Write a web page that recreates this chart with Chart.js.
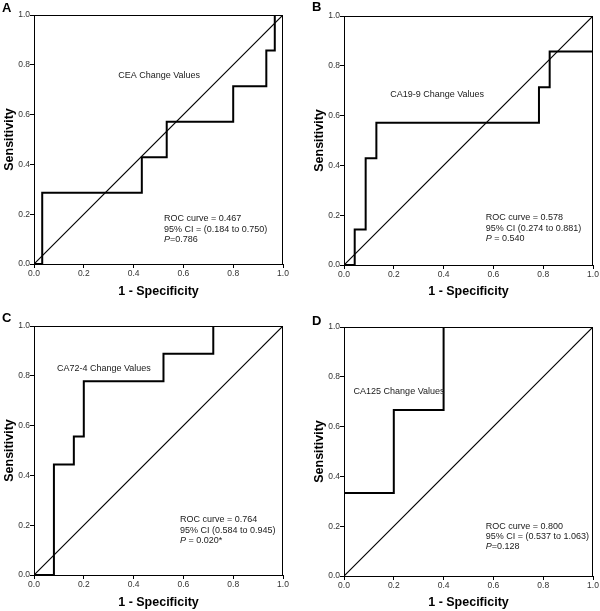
<!DOCTYPE html>
<html>
<head>
<meta charset="utf-8">
<script src="https://cdn.jsdelivr.net/npm/chart.js@4.4.1/dist/chart.umd.min.js"></script>
<style>
html,body{margin:0;padding:0;background:#fff;}
#wrap{position:relative;width:600px;height:611px;overflow:hidden;}
.cell{position:absolute;}
canvas{display:block;}
</style>
</head>
<body>
<div id="wrap">
  <div class="cell" style="left:0;top:0"><canvas id="cA" width="300" height="300"></canvas></div>
  <div class="cell" style="left:300px;top:0"><canvas id="cB" width="300" height="300"></canvas></div>
  <div class="cell" style="left:0;top:300px"><canvas id="cC" width="300" height="311"></canvas></div>
  <div class="cell" style="left:300px;top:300px"><canvas id="cD" width="300" height="311"></canvas></div>
</div>
<script>
// ---- data ----
const panelLetters = ['A', 'B', 'C', 'D'];
const markerNames = ['CEA Change Values', 'CA19-9 Change Values', 'CA72-4 Change Values', 'CA125 Change Values'];
const rocLines = ['ROC curve = 0.467', 'ROC curve = 0.578', 'ROC curve = 0.764', 'ROC curve = 0.800'];
const ciLines = ['95% CI = (0.184 to 0.750)', '95% CI (0.274 to 0.881)', '95% CI (0.584 to 0.945)', '95% CI = (0.537 to 1.063)'];
const pLines = ['=0.786', ' = 0.540', ' = 0.020*', '=0.128'];

const fprA = [0, 0.033, 0.433, 0.533, 0.800, 0.933, 0.967, 1.0];
const tprA = [0, 0.286, 0.429, 0.571, 0.714, 0.857, 1.0, 1.0];
const fprB = [0, 0.043, 0.087, 0.130, 0.783, 0.826, 1.0];
const tprB = [0, 0.143, 0.429, 0.571, 0.714, 0.857, 1.0];
const fprC = [0, 0.08, 0.16, 0.20, 0.52, 0.72, 1.0];
const tprC = [0, 0.444, 0.556, 0.778, 0.889, 1.0, 1.0];
const fprD = [0, 0, 0.2, 0.4, 1.0];
const tprD = [0, 0.333, 0.667, 1.0, 1.0];

const refFpr = [0, 1];
const refTpr = [0, 1];

const axisTicks = [0.0, 0.2, 0.4, 0.6, 0.8, 1.0];
const xTitle = '1 - Specificity';
const yTitle = 'Sensitivity';

// ---- layout / style (not data) ----
const panels = [
  {id: 'cA', fpr: fprA, tpr: tprA, pad: {left: 0, top: 15, right: 17, bottom: 0}, xH: 36,
   letterPos: [2, 12], namePos: [0.338, 0.746], statPos: [0.522, 0.173, 0.130, 0.087]},
  {id: 'cB', fpr: fprB, tpr: tprB, pad: {left: 10, top: 16, right: 7, bottom: 0}, xH: 35,
   letterPos: [12, 11], namePos: [0.1855, 0.676], statPos: [0.569, 0.179, 0.137, 0.095]},
  {id: 'cC', fpr: fprC, tpr: tprC, pad: {left: 0, top: 26, right: 17, bottom: 0}, xH: 36,
   letterPos: [2, 22], namePos: [0.092, 0.820], statPos: [0.586, 0.211, 0.169, 0.128]},
  {id: 'cD', fpr: fprD, tpr: tprD, pad: {left: 10, top: 27, right: 7, bottom: 0}, xH: 35,
   letterPos: [12, 25], namePos: [0.0385, 0.730], statPos: [0.569, 0.190, 0.148, 0.108]}
];

const tickFont = {family: "'Liberation Sans Narrow', 'Arial Narrow', 'Liberation Sans', Arial, sans-serif", size: 8.5};
const titleFont = {family: "'Liberation Sans Narrow', 'Arial Narrow', 'Liberation Sans', Arial, sans-serif", size: 12.5, weight: 'bold', lineHeight: 1.2};
const annFont = "'Liberation Sans', Arial, sans-serif";

function stepVertices(fpr, tpr) {
  const pts = [{x: fpr[0], y: tpr[0]}];
  for (let i = 1; i < fpr.length; i++) {
    pts.push({x: fpr[i], y: tpr[i - 1]});
    pts.push({x: fpr[i], y: tpr[i]});
  }
  return pts;
}

const decoPlugin = {
  id: 'deco',
  afterDatasetsDraw(chart, args, opts) {
    const {ctx, chartArea: ca} = chart;
    const xs = chart.scales.x, ys = chart.scales.y;
    ctx.save();
    // top and right frame
    ctx.strokeStyle = '#000';
    ctx.lineWidth = 1;
    ctx.beginPath();
    ctx.moveTo(ca.left, ca.top + 0.5);
    ctx.lineTo(ca.right, ca.top + 0.5);
    ctx.moveTo(ca.right - 0.5, ca.top);
    ctx.lineTo(ca.right - 0.5, ca.bottom);
    ctx.stroke();

    ctx.fillStyle = '#1a1a1a';
    ctx.textBaseline = 'alphabetic';
    ctx.textAlign = 'left';
    ctx.font = '9px ' + annFont;
    ctx.fillText(opts.name, xs.getPixelForValue(opts.namePos[0]), ys.getPixelForValue(opts.namePos[1]));
    const sx = xs.getPixelForValue(opts.statPos[0]);
    ctx.fillText(opts.roc, sx, ys.getPixelForValue(opts.statPos[1]));
    ctx.fillText(opts.ci, sx, ys.getPixelForValue(opts.statPos[2]));
    const py = ys.getPixelForValue(opts.statPos[3]);
    ctx.font = 'italic 9px ' + annFont;
    ctx.fillText('P', sx, py);
    const pw = ctx.measureText('P').width;
    ctx.font = '9px ' + annFont;
    ctx.fillText(opts.p, sx + pw, py);

    // panel letter
    ctx.fillStyle = '#000';
    ctx.font = 'bold 13px ' + annFont;
    ctx.fillText(opts.letter, opts.letterPos[0], opts.letterPos[1]);
    ctx.restore();
  }
};

panels.forEach((p, idx) => {
  new Chart(document.getElementById(p.id), {
    type: 'line',
    data: {
      datasets: [
        {
          data: stepVertices(p.fpr, p.tpr),
          borderColor: '#000',
          borderWidth: 2,
          pointRadius: 0,
          fill: false,
          tension: 0
        },
        {
          data: refFpr.map((v, i) => ({x: v, y: refTpr[i]})),
          borderColor: '#000',
          borderWidth: 1.2,
          pointRadius: 0,
          fill: false,
          tension: 0
        }
      ]
    },
    plugins: [decoPlugin],
    options: {
      responsive: false,
      animation: false,
      devicePixelRatio: 1,
      layout: {padding: p.pad},
      plugins: {
        legend: {display: false},
        tooltip: {enabled: false},
        deco: {
          letter: panelLetters[idx], letterPos: p.letterPos,
          name: markerNames[idx], namePos: p.namePos,
          roc: rocLines[idx], ci: ciLines[idx], p: pLines[idx], statPos: p.statPos
        }
      },
      scales: {
        x: {
          type: 'linear', min: 0, max: 1,
          afterFit: (s) => { s.height = p.xH; },
          afterBuildTicks: (s) => { s.ticks = axisTicks.map(v => ({value: v})); },
          ticks: {font: tickFont, color: '#333', padding: 1, maxRotation: 0,
                  callback: (v) => Number(v).toFixed(1)},
          grid: {drawOnChartArea: false, drawTicks: true, tickLength: 4, color: '#000', lineWidth: 1},
          border: {display: true, color: '#000', width: 1},
          title: {display: true, text: xTitle, font: titleFont, color: '#000', padding: {top: 0, bottom: 1}}
        },
        y: {
          type: 'linear', min: 0, max: 1,
          afterFit: (s) => { s.width = 34; },
          afterBuildTicks: (s) => { s.ticks = axisTicks.map(v => ({value: v})); },
          ticks: {font: tickFont, color: '#333', padding: 0,
                  callback: (v) => Number(v).toFixed(1)},
          grid: {drawOnChartArea: false, drawTicks: true, tickLength: 4, color: '#000', lineWidth: 1},
          border: {display: true, color: '#000', width: 1},
          title: {display: true, text: yTitle, font: titleFont, color: '#000', padding: {top: 2.5, bottom: 0}}
        }
      }
    }
  });
});
</script>
</body>
</html>
